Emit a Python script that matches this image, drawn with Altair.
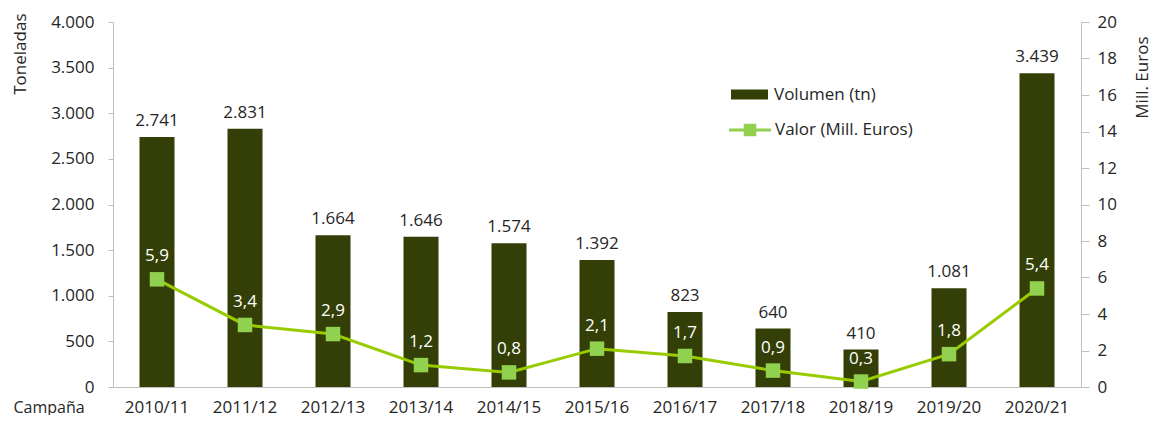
import altair as alt
import pandas as pd

campanas = ["2010/11", "2011/12", "2012/13", "2013/14", "2014/15", "2015/16",
            "2016/17", "2017/18", "2018/19", "2019/20", "2020/21"]
volumen = [2741, 2831, 1664, 1646, 1574, 1392, 823, 640, 410, 1081, 3439]
valor = [5.9, 3.4, 2.9, 1.2, 0.8, 2.1, 1.7, 0.9, 0.3, 1.8, 5.4]
left_ticks = [0, 500, 1000, 1500, 2000, 2500, 3000, 3500, 4000]
right_ticks = [0, 2, 4, 6, 8, 10, 12, 14, 16, 18, 20]

df = pd.DataFrame({"campana": campanas, "vol": volumen, "val": valor})
df["s1"] = "Volumen (tn)"
df["s2"] = "Valor (Mill. Euros)"

FONT = "Open Sans"
FS = 17
TXT = "#262626"
BAR = "#333F06"
LINE = "#99CC00"
MARK = "#92D050"
AXC = "#BFBFBF"

W, H = 968, 365

x = alt.X("campana:N", sort=campanas,
          scale=alt.Scale(paddingInner=0, paddingOuter=0),
          axis=alt.Axis(title="Campaña", labelAngle=0, ticks=False, labelPadding=12,
                        domainColor=AXC, titleX=-100, titleY=20, titleAlign="left",
                        titleBaseline="middle", titleFontWeight="normal",
                        titleFontSize=FS - 1, titleColor=TXT))

yl = alt.Y("vol:Q", scale=alt.Scale(domain=[0, 4000], nice=False),
           axis=alt.Axis(title="Toneladas", values=left_ticks, grid=False,
                         labelExpr="replace(datum.label, ',', '.')",
                         domainColor=AXC, tickColor=AXC, tickSize=5, labelPadding=14,
                         titleAngle=-90, titleAlign="right", titleBaseline="middle",
                         titleX=-93, titleY=-9, titleFontWeight="normal",
                         titleFontSize=FS, titleColor=TXT))

yr = alt.Y("val:Q", scale=alt.Scale(domain=[0, 20], nice=False),
           axis=alt.Axis(title="Mill. Euros", orient="right", values=right_ticks, grid=False,
                         domainColor=AXC, tickColor=AXC, tickSize=8, labelPadding=8,
                         titleAngle=-90, titleAlign="right", titleBaseline="middle",
                         titleX=61, titleY=14, titleFontWeight="normal",
                         titleFontSize=FS, titleColor=TXT))

base = alt.Chart(df)

bars = base.mark_bar(size=35).encode(
    x=x, y=yl,
    fill=alt.Fill("s1:N", scale=alt.Scale(domain=["Volumen (tn)"], range=[BAR]),
                  legend=alt.Legend(title=None, orient="none", legendX=618, legendY=54,
                                    padding=0, symbolType="M-1,-0.27H1V0.27H-1Z",
                                    symbolSize=1369, symbolStrokeWidth=0,
                                    labelFontSize=FS, labelFont=FONT, labelColor=TXT,
                                    labelOffset=6)),
)
bar_text = base.transform_calculate(
    lbl="replace(format(datum.vol, ',d'), ',', '.')"
).mark_text(baseline="bottom", dy=-7, fontSize=FS, font=FONT, color=TXT).encode(
    x=x, y=yl, text="lbl:N")

line = base.mark_line(strokeWidth=3).encode(
    x=x, y=yr,
    stroke=alt.Stroke("s2:N", scale=alt.Scale(domain=["Valor (Mill. Euros)"], range=[LINE]),
                      legend=alt.Legend(title=None, orient="none", legendX=616, legendY=87,
                                        padding=0,
                                        symbolType="M-1,-0.07H1V0.07H-1Z M-0.3,-0.3H0.3V0.3H-0.3Z",
                                        symbolSize=1764, symbolFillColor=MARK,
                                        symbolStrokeWidth=0,
                                        labelFontSize=FS, labelFont=FONT, labelColor=TXT,
                                        labelOffset=4)),
)
points = base.mark_point(shape="square", filled=True, size=210, color=MARK, opacity=1).encode(
    x=x, y=yr)
val_text = base.transform_calculate(
    lbl="replace(format(datum.val, '.1f'), '.', ',')"
).mark_text(baseline="middle", dy=-23, fontSize=FS, font=FONT, color="white").encode(
    x=x, y=yr, text="lbl:N")

left = alt.layer(bars, bar_text)
right = alt.layer(line, points, val_text)

chart = alt.layer(left, right).resolve_scale(y="independent").properties(
    width=W, height=H, padding={"left": 2, "top": 5, "right": 0, "bottom": 0}
).configure_view(stroke=None).configure_axis(
    labelFont=FONT, labelFontSize=FS, labelColor=TXT, titleFont=FONT
)

chart.save("out.html", embed_options={"renderer": "svg", "actions": False})
